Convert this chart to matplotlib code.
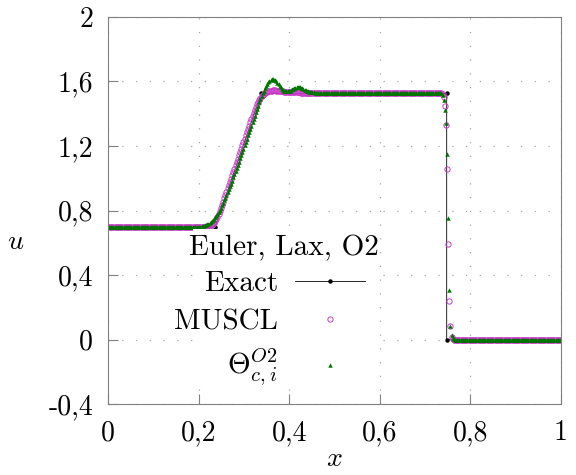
"""Lax shock tube, velocity u: exact vs MUSCL vs Theta O2."""

import matplotlib
matplotlib.use("Agg")
import matplotlib.pyplot as plt
from matplotlib.patches import Rectangle
import numpy as np

plt.rcParams["font.family"] = ["cmr10", "DejaVu Serif"]
plt.rcParams["mathtext.fontset"] = "cm"
plt.rcParams["axes.formatter.use_mathtext"] = True

# exact solution (break points)
exact_x = [0.0, 0.236, 0.338, 0.748, 0.748, 1.0]
exact_u = [0.698, 0.698, 1.525, 1.525, 0.0, 0.0]

# 400 cells on [0, 1]
n_cells = 400
cell_x = np.linspace(0.00125, 0.99875, n_cells)

muscl_ramp = [
    0.699, 0.700, 0.701, 0.702, 0.704, 0.706, 0.709, 0.713, 0.718, 0.725,
    0.734, 0.746, 0.761, 0.778, 0.796, 0.815, 0.835, 0.855, 0.875, 0.896,
    0.916, 0.937, 0.957, 0.978, 0.998, 1.019, 1.039, 1.060, 1.080, 1.101,
    1.121, 1.142, 1.162, 1.183, 1.203, 1.224, 1.244, 1.265, 1.285, 1.306,
    1.326, 1.346, 1.366, 1.386, 1.405, 1.423, 1.441, 1.458, 1.473, 1.487,
    1.499, 1.509, 1.517, 1.523, 1.528, 1.532, 1.535, 1.538, 1.540, 1.542,
    1.543,
]
muscl_hump = [
    1.544, 1.544, 1.544, 1.543, 1.542, 1.541, 1.540, 1.539, 1.538, 1.537,
    1.536, 1.536, 1.535, 1.535, 1.535, 1.535, 1.535, 1.534, 1.534, 1.533,
    1.533, 1.532, 1.532, 1.531, 1.531, 1.530, 1.530, 1.529, 1.529, 1.529,
    1.528, 1.528,
]
muscl_shock = [1.520, 1.500, 1.446, 1.329, 1.058, 0.591, 0.240, 0.086, 0.020, 0.005]
muscl_u = ([0.698] * 84 + muscl_ramp + muscl_hump + [1.527] * 118
           + muscl_shock + [0.0] * 95)

theta_ramp = [
    0.700, 0.701, 0.702, 0.704, 0.706, 0.708, 0.711, 0.714, 0.718, 0.723,
    0.728, 0.734, 0.741, 0.749, 0.758, 0.768, 0.779, 0.791, 0.804, 0.818,
    0.832, 0.847, 0.863, 0.879, 0.896, 0.913, 0.931, 0.949, 0.967, 0.986,
    1.005, 1.024, 1.044, 1.063, 1.083, 1.103, 1.123, 1.143, 1.163, 1.183,
    1.204, 1.224, 1.244, 1.265, 1.285, 1.306, 1.326, 1.347, 1.367, 1.388,
    1.408, 1.429, 1.449, 1.469, 1.489, 1.508, 1.526, 1.543, 1.558, 1.572,
    1.584, 1.594, 1.602, 1.608, 1.612, 1.613, 1.611, 1.607, 1.600, 1.592,
    1.582, 1.572, 1.562, 1.553, 1.546, 1.541, 1.538, 1.537, 1.538, 1.540,
    1.543, 1.547, 1.551, 1.555, 1.558, 1.561, 1.562, 1.563, 1.563, 1.562,
    1.560, 1.557, 1.553, 1.549, 1.545, 1.541, 1.538, 1.536, 1.534, 1.533,
    1.532, 1.531,
]
theta_shock = [1.515, 1.483, 1.425, 1.345, 1.147, 0.753, 0.307, 0.085, 0.030, 0.012, 0.004]
theta_u = ([0.698] * 80 + theta_ramp + [1.530] * 113
           + theta_shock + [0.0] * 94)

assert len(muscl_u) == n_cells and len(theta_u) == n_cells

x_ticks = [0, 0.2, 0.4, 0.6, 0.8, 1]
x_labels = ["0", "0,2", "0,4", "0,6", "0,8", "1"]
y_ticks = [-0.4, 0, 0.4, 0.8, 1.2, 1.6, 2]
y_labels = ["-0,4", "0", "0,4", "0,8", "1,2", "1,6", "2"]

fs = 20
leg_fs = 21
gray = "#808080"
W, H = 576, 475

fig = plt.figure(figsize=(5.76, 4.75), dpi=100)
ax = fig.add_axes([108.3 / W, 1 - 404.4 / H, 452.4 / W, 387.7 / H])

ax.plot(exact_x, exact_u, color="black", lw=0.6, marker="o", ms=2.2,
        label="Exact")
ax.plot(cell_x, muscl_u, ls="none", marker="o", ms=3.8, mfc="none",
        mec="#c83cc8", mew=0.7, label="MUSCL")
ax.plot(cell_x, theta_u, ls="none", marker="^", ms=3.2, color="#007400",
        mew=0, label=r"$\Theta_{c,i}^{O2}$")

ax.set_xlim(0, 1)
ax.set_ylim(-0.4, 2)
ax.set_xticks(x_ticks)
ax.set_xticklabels(x_labels, fontsize=fs)
ax.set_yticks(y_ticks)
ax.set_yticklabels(y_labels, fontsize=fs)
ax.tick_params(direction="in", length=7.5, width=0.8, color=gray,
               top=False, right=False)
ax.tick_params(axis="y", pad=11)
ax.tick_params(axis="x", pad=11)
for sp in ax.spines.values():
    sp.set_color(gray)
    sp.set_linewidth(0.8)

ax.set_axisbelow(True)
ax.grid(True, color="#a8a8a8", linestyle=(0, (1, 10)), linewidth=0.9)

ax.set_xlabel("$x$", fontsize=fs, va="center")
ax.xaxis.set_label_coords(0.5, -0.14)
ax.set_ylabel("$u$", fontsize=fs, rotation=0, va="center", ha="center")
ax.yaxis.set_label_coords(-0.204, 0.419)

# white legend background, covers the curves under it
bg = Rectangle((193 / W, 1 - 388 / H), (378 - 193) / W, (388 - 229) / H,
               transform=fig.transFigure, facecolor="white",
               edgecolor="none", zorder=4, clip_on=False)
ax.add_patch(bg)
ax.text(284 / W, 1 - 248 / H, "Euler, Lax, O2", fontsize=leg_fs,
        transform=fig.transFigure, ha="center", va="center", zorder=6)

leg = ax.legend(loc="upper right", bbox_to_anchor=(365 / W, 1 - 271 / H),
                bbox_transform=fig.transFigure, fontsize=leg_fs,
                markerfirst=False, frameon=False, borderpad=0,
                borderaxespad=0, handlelength=2.4, handletextpad=0.58,
                labelspacing=0.4)
leg.set_zorder(6)

fig.savefig("out.png", dpi=100)
